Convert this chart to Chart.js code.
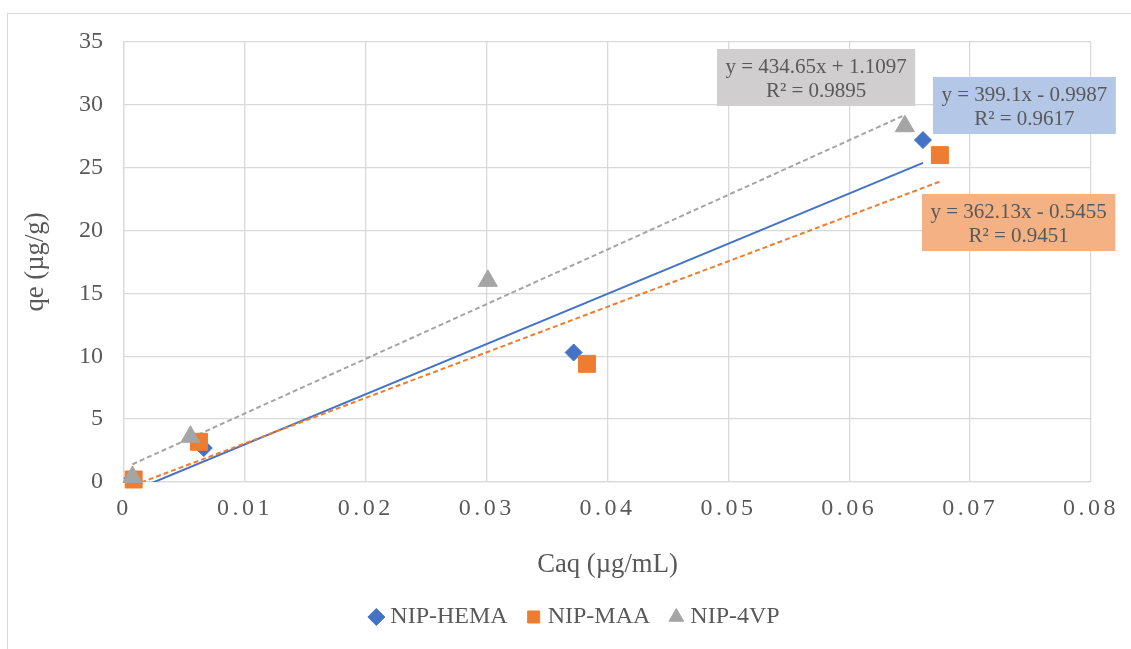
<!DOCTYPE html>
<html lang="en">
  <head>
    <meta charset="UTF-8">
    <title>qe vs Caq</title>
    <script src="https://cdn.jsdelivr.net/npm/chart.js@4.4.0/dist/chart.umd.min.js"></script>
    <style>
      body { margin: 0; overflow: hidden; background: #fff; }
      #frame { position: absolute; left: 7px; top: 13px; width: 1400px; height: 900px; border: 1.5px solid #d9d9d9; }
      #wrap { position: absolute; left: 0; top: 0; width: 1131px; height: 649px; }
    </style>
  </head>
  <body>
    <div id="frame"></div>
    <div id="wrap"><canvas id="chart"></canvas></div>
    <script>
      const seriesNames = ['NIP-HEMA', 'NIP-MAA', 'NIP-4VP']
      const hemaX = [0.0007, 0.0066, 0.0372, 0.0661]
      const hemaY = [0.3, 2.7, 10.3, 27.2]
      const maaX = [0.0008, 0.0062, 0.0383, 0.0675]
      const maaY = [0.2, 3.2, 9.4, 26.0]
      const vpX = [0.0007, 0.0055, 0.0301, 0.0646]
      const vpY = [0.4, 3.6, 16.0, 28.3]

      // linear trendline end points, as drawn (first to last x of each series)
      const hemaTrendX = [0.0007, 0.0661]
      const hemaTrendY = [-0.72, 25.38]
      const maaTrendX = [0.0008, 0.0675]
      const maaTrendY = [-0.26, 23.90]
      const vpTrendX = [0.0007, 0.0646]
      const vpTrendY = [1.41, 29.19]

      const trendLabels = [
        ['y = 434.65x + 1.1097', 'R² = 0.9895'],
        ['y = 399.1x - 0.9987', 'R² = 0.9617'],
        ['y = 362.13x - 0.5455', 'R² = 0.9451'],
      ]

      const xTicks = [0, 0.08, 0.01]
      const yTicks = [0, 35, 5]

      const serif = '"Liberation Serif", "Times New Roman", serif'
      const textColor = '#595959'
      const gridColor = '#d9d9d9'
      const blue = '#4472c4'
      const orange = '#ed7d31'
      const gray = '#a5a5a5'

      const pts = (xs, ys) => xs.map((x, i) => ({ x, y: ys[i] }))

      // equation boxes: left/top in pixels, fill colour
      const labelBoxes = [
        { left: 717, top: 49, fill: '#d0cece' },
        { left: 933, top: 77, fill: '#b4c7e7' },
        { left: 922, top: 194, fill: '#f4b183' },
      ]

      const equationPlugin = {
        id: 'equations',
        afterDraw(chart) {
          const ctx = chart.ctx
          ctx.save()
          ctx.font = '21px ' + serif
          ctx.textAlign = 'center'
          ctx.textBaseline = 'middle'
          labelBoxes.forEach((b, i) => {
            const lines = trendLabels[i]
            const w = Math.max(...lines.map(t => ctx.measureText(t).width)) + 17
            ctx.fillStyle = b.fill
            ctx.fillRect(b.left, b.top, w, 57)
            ctx.fillStyle = textColor
            lines.forEach((t, j) => ctx.fillText(t, b.left + w / 2, b.top + 18 + j * 24))
          })
          ctx.restore()
        }
      }

      // Excel spreads the x tick digits out a little
      const spacedTicks = {
        id: 'spacedTicks',
        beforeDraw(chart) {
          const sc = chart.scales.x
          if (sc._spaced) return
          const orig = sc.drawLabels.bind(sc)
          sc.drawLabels = function (area) {
            this.ctx.save()
            this.ctx.letterSpacing = '3.5px'
            orig(area)
            this.ctx.restore()
          }
          sc._spaced = true
        }
      }

      const trend = (data, color, dash, order) => ({
        type: 'line',
        data,
        borderColor: color,
        borderWidth: 2,
        borderDash: dash,
        pointRadius: 0,
        fill: false,
        showLine: true,
        clip: 0,
        order,
      })

      const marker = (label, data, color, style, radius, order) => ({
        label,
        data,
        backgroundColor: color,
        borderColor: color,
        borderWidth: 1,
        pointStyle: style,
        pointRadius: radius,
        showLine: false,
        clip: false,
        order,
      })

      new Chart(document.getElementById('chart'), {
        type: 'scatter',
        data: {
          datasets: [
            marker(seriesNames[0], pts(hemaX, hemaY), blue, 'rectRot', 8.5, 3),
            marker(seriesNames[1], pts(maaX, maaY), orange, 'rect', 12, 2),
            marker(seriesNames[2], pts(vpX, vpY), gray, 'triangle', 11, 1),
            trend(pts(hemaTrendX, hemaTrendY), blue, [], 12),
            trend(pts(maaTrendX, maaTrendY), orange, [5, 3], 11),
            trend(pts(vpTrendX, vpTrendY), gray, [5, 3], 10),
          ]
        },
        options: {
          responsive: true,
          maintainAspectRatio: false,
          animation: false,
          layout: { padding: { left: 63, top: 42, right: 40, bottom: 10 } },
          scales: {
            x: {
              type: 'linear',
              min: xTicks[0],
              max: xTicks[1],
              afterFit: s => { s.height = 99 },
              ticks: {
                stepSize: xTicks[2],
                color: textColor,
                font: { family: serif, size: 24 },
                padding: 12,
                callback: v => String(Number(v.toFixed(2))),
              },
              grid: { color: gridColor, lineWidth: 1.3, drawTicks: false },
              border: { color: gridColor, width: 1.3 },
              title: {
                display: true,
                text: 'Caq (µg/mL)',
                color: textColor,
                font: { family: serif, size: 26.7 },
                padding: { top: 0, bottom: 0 },
              },
            },
            y: {
              min: yTicks[0],
              max: yTicks[1],
              afterFit: s => { s.width = 61 },
              ticks: {
                stepSize: yTicks[2],
                color: textColor,
                font: { family: serif, size: 24 },
                padding: 21,
              },
              grid: { color: gridColor, lineWidth: 1.3, drawTicks: false },
              border: { color: gridColor, width: 1.3 },
              title: {
                display: true,
                text: 'qe (µg/g)',
                color: textColor,
                font: { family: serif, size: 26.7 },
                padding: { top: -43, bottom: 0 },
              },
            },
          },
          plugins: {
            tooltip: { enabled: false },
            legend: {
              position: 'bottom',
              labels: {
                usePointStyle: true,
                boxWidth: 4,
                boxHeight: 12,
                padding: 24,
                color: textColor,
                font: { family: serif, size: 24 },
                filter: item => item.datasetIndex < 3,
                sort: (a, b) => a.datasetIndex - b.datasetIndex,
              },
            },
          },
        },
        plugins: [spacedTicks, equationPlugin],
      })
    </script>
  </body>
</html>
